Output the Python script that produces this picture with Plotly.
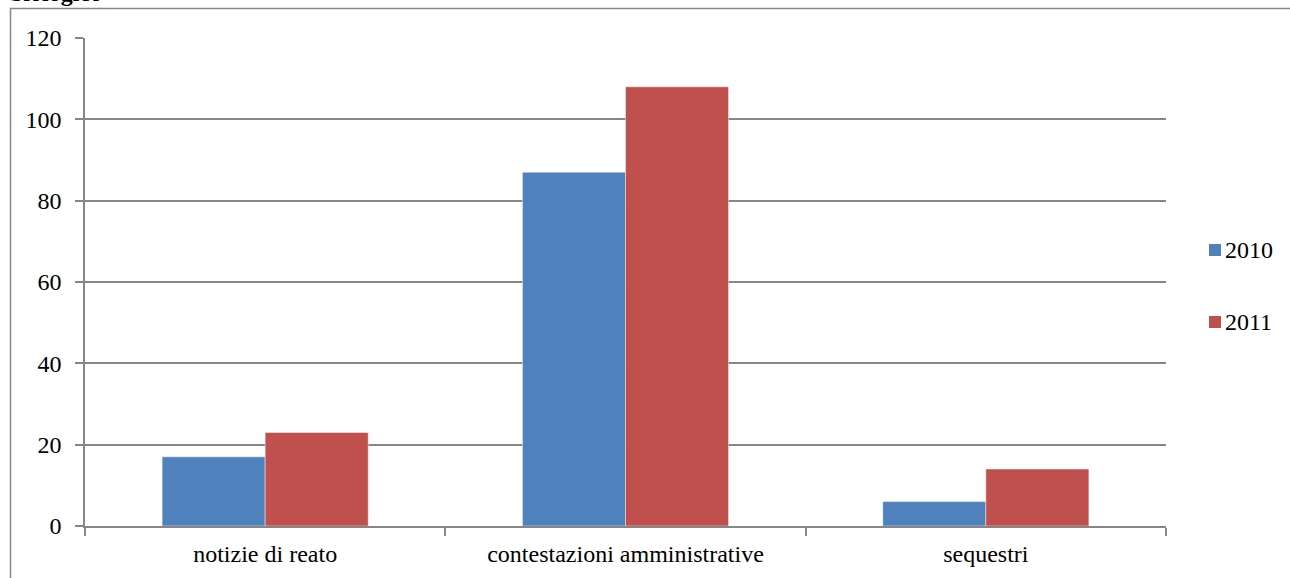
import plotly.graph_objects as go

# Data
categories = ["notizie di reato", "contestazioni amministrative", "sequestri"]
values_2010 = [17, 87, 6]
values_2011 = [23, 108, 14]
series_names = ["2010", "2011"]
colors = ["#4F81BD", "#C0504D"]
y_ticks = [0, 20, 40, 60, 80, 100, 120]

FONT = "Liberation Serif, Times New Roman"
TXT = dict(family=FONT, size=24, color="black")

fig = go.Figure()
for name, vals, col in zip(series_names, [values_2010, values_2011], colors):
    fig.add_trace(go.Bar(
        x=categories, y=vals, name=name, showlegend=False,
        marker=dict(color=col, line=dict(color="rgba(255,255,255,0.45)", width=1)),
    ))

W, H = 1290, 578
L, R, T, B = 85, 124, 38, 52
pw, ph = W - L - R, H - T - B

def px_x(p):
    return (p - L) / pw

def px_y(p):
    return (H - B - p) / ph

# outer frame of the chart object
fig.add_shape(type="rect", xref="paper", yref="paper",
              x0=px_x(10.5), x1=px_x(1300), y0=px_y(590), y1=px_y(8.5),
              line=dict(color="#868686", width=1.5), fillcolor="rgba(0,0,0,0)",
              layer="below")

# heading text running above the frame
fig.add_annotation(text="<b>biologico</b>", xref="paper", yref="paper",
                   x=px_x(8), y=px_y(8), xanchor="left", yanchor="bottom",
                   showarrow=False, font=dict(family=FONT, size=24, color="black"))

# legend: colour square + series name, stacked on the right
for i, (name, col) in enumerate(zip(series_names, colors)):
    cy = 250 + i * 72
    fig.add_shape(type="rect", xref="paper", yref="paper",
                  x0=px_x(1209), x1=px_x(1221), y0=px_y(cy + 6), y1=px_y(cy - 6),
                  fillcolor=col, line=dict(width=0))
    fig.add_annotation(text=name, xref="paper", yref="paper",
                       x=px_x(1223), y=px_y(cy), xanchor="left", yanchor="middle",
                       showarrow=False, font=TXT)

fig.update_layout(
    width=W, height=H,
    margin=dict(l=L, r=R, t=T, b=B),
    paper_bgcolor="white", plot_bgcolor="white",
    barmode="group", bargap=0.428, bargroupgap=0,
    font=TXT,
    showlegend=False,
    xaxis=dict(showgrid=False, showline=True, linecolor="#868686", linewidth=1.5,
               ticks="outside", tickson="boundaries", ticklen=8, tickcolor="#868686",
               tickwidth=1.5, ticklabelstandoff=5, tickfont=TXT),
    yaxis=dict(range=[0, 120], tickvals=y_ticks, showgrid=True, gridcolor="#868686",
               gridwidth=1.5, showline=True, linecolor="#868686", linewidth=1.5,
               ticks="outside", ticklen=8, tickcolor="#868686", tickwidth=1.5,
               ticklabelstandoff=9, zeroline=False, tickfont=TXT),
)

fig.write_html("out.html")
